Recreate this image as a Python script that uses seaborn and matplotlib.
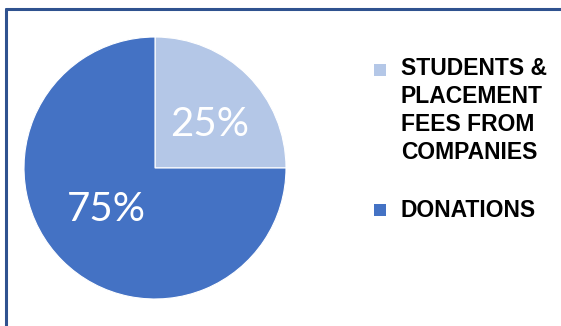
import matplotlib
matplotlib.use("Agg")
import matplotlib.pyplot as plt
import seaborn as sns
from matplotlib.lines import Line2D
from matplotlib.patches import Rectangle

categories = ["STUDENTS &\nPLACEMENT\nFEES FROM\nCOMPANIES", "DONATIONS"]
values = [25, 75]
colors = ["#B4C7E7", "#4472C4"]

sns.set_theme(style="white")
plt.rcParams["font.family"] = ["Lato", "DejaVu Sans"]

W, H = 561, 326
fig = plt.figure(figsize=(W / 100, H / 100), dpi=100)
fig.patch.set_facecolor("white")

cx, cy, r = 155, 168, 131
ax = fig.add_axes([(cx - r) / W, (H - cy - r) / H, 2 * r / W, 2 * r / H])
wedges, texts, autotexts = ax.pie(
    values, colors=colors, startangle=90, counterclock=False,
    autopct=lambda p: f"{p:.0f}%", pctdistance=0.53, radius=1,
    wedgeprops=dict(edgecolor="white", linewidth=0.8),
    textprops=dict(color="white", fontsize=29, family=["Lato", "DejaVu Sans"]))
# label placement inside each slice
autotexts[0].set_position((0.42, 0.33))
autotexts[1].set_position((-0.37, -0.32))
ax.set_xlim(-1, 1)
ax.set_ylim(-1, 1)
ax.set_aspect("equal")
ax.axis("off")

# legend: square markers aligned with first line of each label
leg_x_sq, leg_x_txt = 380, 401
first_baselines = [77, 217]
line_step = 27.3
for lab, col, yb in zip(categories, colors, first_baselines):
    n = lab.count("\n")
    fig.add_artist(Rectangle(((leg_x_sq - 6) / W, 1 - (yb - 1) / H), 12 / W, 12 / H,
                             transform=fig.transFigure, facecolor=col,
                             edgecolor="none"))
    fig.text(leg_x_txt / W, 1 - (yb + n * line_step) / H, lab, ha="left",
             va="baseline", family="Liberation Sans", weight="bold",
             fontsize=16.5, color="black", linespacing=1.28)

# frame border (top and left visible)
fig.add_artist(Line2D([6 / W, 1.0], [1 - 9 / H, 1 - 9 / H], color="#2F528F",
                      linewidth=2.2, transform=fig.transFigure))
fig.add_artist(Line2D([6 / W, 6 / W], [0, 1 - 9 / H], color="#2F528F",
                      linewidth=2.2, transform=fig.transFigure))

fig.savefig("out.png", dpi=100, facecolor="white")
